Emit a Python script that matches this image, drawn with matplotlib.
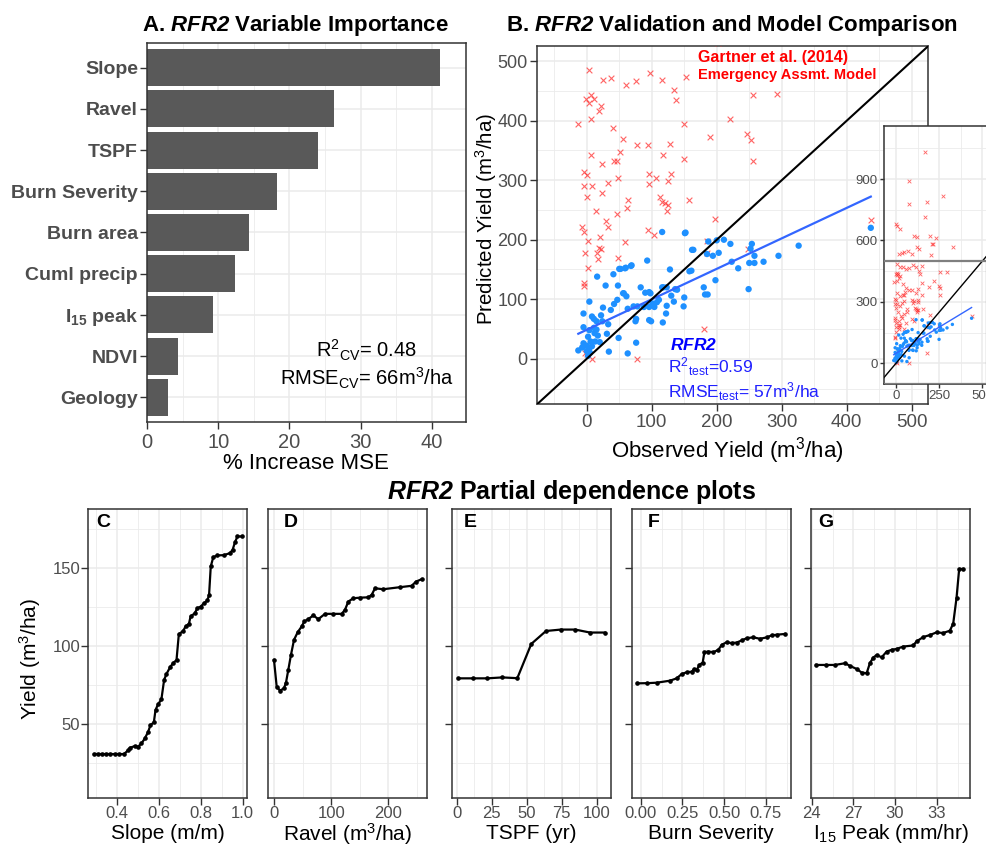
import matplotlib
matplotlib.use("Agg")
import matplotlib.pyplot as plt
import numpy as np
from matplotlib.patches import Rectangle
from matplotlib.ticker import MultipleLocator, FormatStrFormatter

plt.rcParams['font.family'] = ['Liberation Sans', 'DejaVu Sans']
plt.rcParams['mathtext.fontset'] = 'custom'
plt.rcParams['mathtext.rm'] = 'Liberation Sans'
plt.rcParams['mathtext.it'] = 'Liberation Sans:italic'
plt.rcParams['mathtext.bf'] = 'Liberation Sans:bold'
plt.rcParams['mathtext.bfit'] = 'Liberation Sans:italic:bold'

# ---- A: variable importance
imp_vars = ['Geology', 'NDVI', r'$\mathbf{I_{15}}$ peak', 'Cuml precip', 'Burn area',
            'Burn Severity', 'TSPF', 'Ravel', 'Slope']
imp_vals = [3.0, 4.4, 9.2, 12.4, 14.3, 18.3, 24.0, 26.2, 41.2]

# ---- B: validation (observed vs predicted)
gartner_obs = [3, 25, 38, 60, 76, 97, 115, 152, 134, 138, -14, -1, 6, 11, 4, 22, 19, 6,
               41, 150, 221, 189, 246, 252, 256, 256, 293, 56, 51, 78, 94, 128, 6, 42, 46, 24,
               149, 117, 48, 33, -5, 0, -5, 8, 1, 23, 95, 96, 107, 130, 125, 112, 115, 121,
               123, 125, 63, 62, 158, 14, 29, 32, -7, -4, 2, 20, 19, 15, 17, -2, 2, -4, -5,
               94, 104, 59, 197, 185, 185, 248, 48, 181, 1, 8, 77, 437, -2, 46, 22,
               166, 77, 73, 179, 270, 166, 0, 6, 23, 102, 123, 194, 231, 214, 208, 119, 131,
               328, 44, 67, 33, 19, 92, 202]
gartner_pred = [485, 469, 471, 460, 466, 480, 469, 474, 452, 435, 395, 437, 443, 436, 429, 424,
                417, 403, 387, 394, 403, 373, 377, 367, 332, 444, 445, 370, 348, 360, 360, 361,
                343, 332, 332, 327, 336, 343, 304, 296, 313, 309, 291, 291, 272, 278, 310, 294,
                304, 311, 299, 271, 264, 262, 249, 259, 267, 253, 267, 249, 232, 222, 221, 213,
                198, 205, 186, 178, 168, 178, 152, 128, 123, 216, 208, 197, 234, 198, 178, 185,
                170, 50, 8, 0, 0, 233, 10, 243, 185,
                1034, 889, 779, 789, 818, 717, 679, 673, 655, 622, 617, 622, 612, 583, 581, 568,
                557, 566, 545, 550, 540, 535, 532, 530]

rfr2_obs = [116, 151, 93, 52, 60, 69, 41, 16, 128, 162, 29, 48, 4, -5, 8, 11, 25, 22, 37, 42,
            47, 57, 61, 83, 90, 96, 63, 72, 78, 88, 96, 101, 104, 108, 111, 116, 123, 136, 130,
            123, 134, 150, 149, 122, 117, 96, 99, 76, 75, 33, 31, 49, 34, 63, 76, 11, -5, -5, 0,
            2, 8, 13, 20, 17, 6, -13, 0, 4, -7, 12, 15, 4, 24, 15, 187, 200, 211, 221, 194, 203,
            185, 254, 252, 258, 258, 250, 272, 295, 326, 233, 223, 198, 249, 180, 182, 186, 437,
            152, 164, 158, 161, 139, 118, 68, 59, 50, 56, 98, 2, 5]
rfr2_pred = [213, 211, 165, 151, 153, 157, 142, 138, 150, 183, 123, 123, 96, 76, 71, 67, 86, 73,
             82, 92, 99, 110, 105, 120, 111, 112, 84, 88, 88, 87, 87, 93, 87, 95, 99, 120, 120,
             117, 106, 89, 96, 103, 88, 76, 61, 65, 63, 67, 63, 58, 42, 35, 12, 9, 27, 52, 53, 26,
             22, 37, 21, 29, 28, 39, 29, 14, 13, 18, 19, 43, 49, 48, 63, 63, 197, 199, 200, 193,
             173, 178, 176, 193, 185, 173, 161, 161, 163, 173, 190, 152, 163, 132, 117, 120, 108,
             108, 220, 212, 183, 147, 148, 116, 120, 156, 152, 151, 110, 110, 5, 10]
fit_slope = 0.512
fit_intercept = 48.7

# ---- C-G: partial dependence
slope_x = [0.292, 0.31, 0.33, 0.35, 0.37, 0.39, 0.41, 0.435, 0.455, 0.462, 0.486, 0.502, 0.518,
           0.534, 0.55, 0.561, 0.577, 0.585, 0.597, 0.613, 0.626, 0.637, 0.656, 0.669, 0.685,
           0.696, 0.717, 0.728, 0.744, 0.752, 0.772, 0.784, 0.80, 0.816, 0.832, 0.84, 0.848,
           0.86, 0.879, 0.911, 0.94, 0.952, 0.963, 0.975, 0.998]
slope_y = [30.7, 30.7, 30.7, 30.7, 30.7, 30.7, 30.7, 30.7, 33.2, 34.7, 35.8, 35.4, 37.5, 40.7,
           45.0, 49.3, 51.0, 59.0, 62.6, 65.8, 78.3, 82.1, 86.8, 89.0, 91.1, 107.6, 109.8, 112.6,
           114.3, 119.0, 121.1, 124.3, 125.4, 127.5, 129.3, 132.9, 151.1, 157.1, 158.2, 158.4,
           159.7, 161.8, 166.5, 170.4, 170.4]
ravel_x = [0, 4.7, 10.5, 17.5, 21, 25, 29.7, 35, 41.4, 48.4, 53, 60, 68.7, 77.5, 89.2, 103.7,
           118.3, 124, 130, 138.7, 150.3, 164.9, 170.8, 176.6, 191, 220, 240.7, 248.3, 258]
ravel_y = [91.1, 74.0, 71.4, 72.9, 76.6, 84.7, 94.4, 104.0, 108.9, 112.6, 115.8, 117.3, 119.7,
           117.3, 120.7, 120.7, 120.7, 123.2, 128.6, 130.7, 131.1, 131.3, 132.9, 137.1, 136.5,
           137.8, 138.7, 141.4, 142.9]
tspf_x = [1.2, 11.4, 21.9, 32.6, 43.3, 53.3, 63.8, 74.3, 84.7, 95.2, 105.7]
tspf_y = [79.3, 79.3, 79.3, 79.9, 79.4, 101.4, 109.7, 110.6, 110.6, 108.7, 108.7]
sev_x = [-0.02, 0.04, 0.096, 0.176, 0.216, 0.246, 0.276, 0.306, 0.32, 0.336, 0.352, 0.372, 0.382,
         0.406, 0.436, 0.466, 0.486, 0.516, 0.546, 0.576, 0.606, 0.636, 0.676, 0.716, 0.756,
         0.786, 0.816, 0.866]
sev_y = [76.1, 76.2, 76.5, 77.8, 79.3, 82.1, 83.2, 83.6, 85.1, 84.7, 87.9, 89.4, 96.1, 96.5, 96.1,
         97.6, 100.8, 102.5, 101.9, 102.3, 103.6, 105.1, 105.6, 104.7, 105.6, 106.9, 107.3, 107.8]
i15_x = [24.31, 25.0, 25.68, 26.4, 26.76, 27.24, 27.6, 27.96, 28.19, 28.43, 28.68, 29.04, 29.4,
         29.76, 30.12, 30.59, 31.31, 31.55, 32.03, 32.51, 32.99, 33.47, 33.95, 34.19, 34.43,
         34.62, 34.9]
i15_y = [87.9, 87.9, 87.9, 89.0, 87.3, 85.3, 83.0, 82.6, 89.0, 92.6, 94.3, 92.8, 96.5, 97.6,
         98.2, 99.7, 100.4, 103.0, 105.8, 107.1, 108.8, 108.4, 109.9, 114.4, 130.9, 149.5, 149.5]

W, H = 986, 847
GRID = '#EBEBEB'
TICKC = '#4D4D4D'


def box(l, t, r, b):
    return [l / W, 1 - b / H, (r - l) / W, (b - t) / H]


def style(ax):
    ax.set_facecolor('white')
    ax.grid(True, which='major', color=GRID, lw=1.1)
    ax.grid(True, which='minor', color=GRID, lw=0.6)
    ax.set_axisbelow(True)
    for s in ax.spines.values():
        s.set_color('#333333')
        s.set_linewidth(1.1)
    ax.tick_params(which='major', length=5, width=1.0, color='#333333', labelcolor=TICKC)
    ax.tick_params(which='minor', length=0)


fig = plt.figure(figsize=(W / 100, H / 100), dpi=100)

# ---------------- Panel A
axA = fig.add_axes(box(147, 43, 466, 422))
style(axA)
ypos = np.arange(len(imp_vars))
axA.barh(ypos, imp_vals, height=0.9, color='#595959')
axA.set_yticks(ypos, imp_vars, fontsize=14, fontweight='bold')
axA.set_ylim(-0.6, len(imp_vars) - 0.4)
axA.set_xlim(0, 44.8)
axA.xaxis.set_major_locator(MultipleLocator(10))
axA.xaxis.set_minor_locator(MultipleLocator(5))
axA.tick_params(axis='y', pad=1.5)
axA.tick_params(axis='x', labelsize=14.5, pad=3)
axA.text(30.9, 1.14, r'R$^{2}{}_{\mathrm{CV}}$= 0.48', fontsize=14.5, ha='center', va='center')
axA.text(30.8, 0.46, r'RMSE$_{\mathrm{CV}}$= 66m$^3$/ha', fontsize=14.5, ha='center', va='center')
fig.text(141.7 / W, 1 - 25 / H, r'A. $\mathbfit{RFR2}$ Variable Importance', fontsize=16,
         fontweight='bold', ha='left', va='center')
fig.text(306 / W, 1 - 463.5 / H, '% Increase MSE', fontsize=16, ha='center', va='center')

# ---------------- Panel B
axB = fig.add_axes(box(536.7, 45.7, 928, 404))
style(axB)
axB.set_xlim(-77, 525)
axB.set_ylim(-76, 526)
axB.xaxis.set_major_locator(MultipleLocator(100))
axB.xaxis.set_minor_locator(MultipleLocator(50))
axB.yaxis.set_major_locator(MultipleLocator(100))
axB.yaxis.set_minor_locator(MultipleLocator(50))
axB.tick_params(axis='x', labelsize=13.5, pad=2)
axB.tick_params(axis='y', labelsize=13, pad=1.5)
axB.scatter(gartner_obs, gartner_pred, marker='x', s=17, color='#FF3030', alpha=0.75,
            linewidths=0.8, zorder=3)
axB.scatter(rfr2_obs, rfr2_pred, marker='o', s=21, color='#1E90FF', edgecolors='none', zorder=4)
fx = np.array([min(rfr2_obs), max(rfr2_obs)])
axB.plot(fx, fit_intercept + fit_slope * fx, color='#3366FF', lw=1.6, zorder=5)
axB.axline((0, 0), slope=1, color='black', lw=1.5, zorder=5)
axB.text(171, 507, 'Gartner et al. (2014)', color='#FF0000', fontsize=11.5, fontweight='bold',
         ha='left', va='center')
axB.text(171, 477, 'Emergency Assmt. Model', color='#FF0000', fontsize=10.5, fontweight='bold',
         ha='left', va='center')
axB.text(128.5, 22.4, r'$\mathbfit{RFR2}$', color='#0000FF', fontsize=12.5, ha='left', va='center')
axB.text(125.4, -13, r'R$^{2}{}_{\mathrm{test}}$=0.59', color='#2020FF', fontsize=12.5,
         ha='left', va='center')
axB.text(125.4, -55, r'RMSE$_{\mathrm{test}}$= 57m$^3$/ha', color='#2020FF', fontsize=12.5,
         ha='left', va='center')
fig.text(506 / W, 1 - 25 / H, r'B. $\mathbfit{RFR2}$ Validation and Model Comparison',
         fontsize=16, fontweight='bold', ha='left', va='center')
fig.text(727 / W, 1 - 451 / H, 'Observed Yield (m$^3$/ha)', fontsize=16, ha='center', va='center')
fig.text(486.5 / W, 1 - 219 / H, 'Predicted Yield (m$^3$/ha)', fontsize=14.8, rotation=90,
         ha='center', va='center')

# inset with all points
axI = fig.add_axes(box(883.7, 126, 989.4, 384), zorder=10)
style(axI)
axI.set_xlim(-71, 540)
axI.set_ylim(-101, 1159)
axI.xaxis.set_major_locator(MultipleLocator(250))
axI.xaxis.set_minor_locator(MultipleLocator(125))
axI.yaxis.set_major_locator(MultipleLocator(300))
axI.yaxis.set_minor_locator(MultipleLocator(150))
axI.tick_params(labelsize=9.5, pad=1.5, length=3)
axI.scatter(gartner_obs, gartner_pred, marker='x', s=7, color='#FF3030', alpha=0.75,
            linewidths=0.6, zorder=3)
axI.scatter(rfr2_obs, rfr2_pred, marker='o', s=6, color='#1E90FF', edgecolors='none', zorder=4)
axI.plot(fx, fit_intercept + fit_slope * fx, color='#3366FF', lw=1.0, zorder=5)
axI.axline((0, 0), slope=1, color='black', lw=1.0, zorder=5)
axI.add_patch(Rectangle((-75, -100), 600, 600, fill=False, edgecolor='#7F7F7F', lw=1.6, zorder=6))

# ---------------- Partial dependence panels
panels = [
    ('C', slope_x, slope_y, 'Slope (m/m)', (0.265, 1.022), 0.2, '%.1f', 88.3, 247.3, 0.053),
    ('D', ravel_x, ravel_y, 'Ravel (m$^3$/ha)', (-11, 267), 100, '%d', 267.7, 426.7, 0.098),
    ('E', tspf_x, tspf_y, 'TSPF (yr)', (-3.1, 110.2), 25, '%d', 452.3, 611, 0.069),
    ('F', sev_x, sev_y, 'Burn Severity', (-0.054, 0.9), 0.25, '%.2f', 631.7, 790.7, 0.10),
    ('G', i15_x, i15_y, 'I$_{15}$ Peak (mm/hr)', (23.93, 35.4), 3, '%d', 810.7, 970, 0.048),
]
for i, (lab, xs, ys, xlab, xl, step, fmt, left, right, lx) in enumerate(panels):
    ax = fig.add_axes(box(left, 509, right, 798.3))
    style(ax)
    ax.plot(xs, ys, color='black', lw=1.6, marker='o', ms=2.3, zorder=3)
    ax.set_xlim(*xl)
    ax.set_ylim(2.3, 188)
    ax.xaxis.set_major_locator(MultipleLocator(step))
    ax.xaxis.set_minor_locator(MultipleLocator(step / 2))
    ax.xaxis.set_major_formatter(FormatStrFormatter(fmt))
    ax.yaxis.set_major_locator(MultipleLocator(50))
    ax.yaxis.set_minor_locator(MultipleLocator(25))
    ax.tick_params(labelsize=12, pad=0.8)
    if i > 0:
        ax.tick_params(axis='y', labelleft=False)
    ax.text(lx, 0.955, lab, transform=ax.transAxes, fontsize=14, fontweight='bold',
            ha='left', va='center')
    ylab = 834.5 if '^' in xlab else 833
    fig.text((left + right) / 2 / W, 1 - ylab / H, xlab, fontsize=15, ha='center',
             va='center')

fig.text(572 / W, 1 - 491.7 / H, r'$\mathbfit{RFR2}$ Partial dependence plots', fontsize=18,
         fontweight='bold', ha='center', va='center')
fig.text(30 / W, 1 - 659 / H, 'Yield (m$^3$/ha)', fontsize=15, rotation=90, ha='center',
         va='center')

fig.savefig('out.png', dpi=100)
